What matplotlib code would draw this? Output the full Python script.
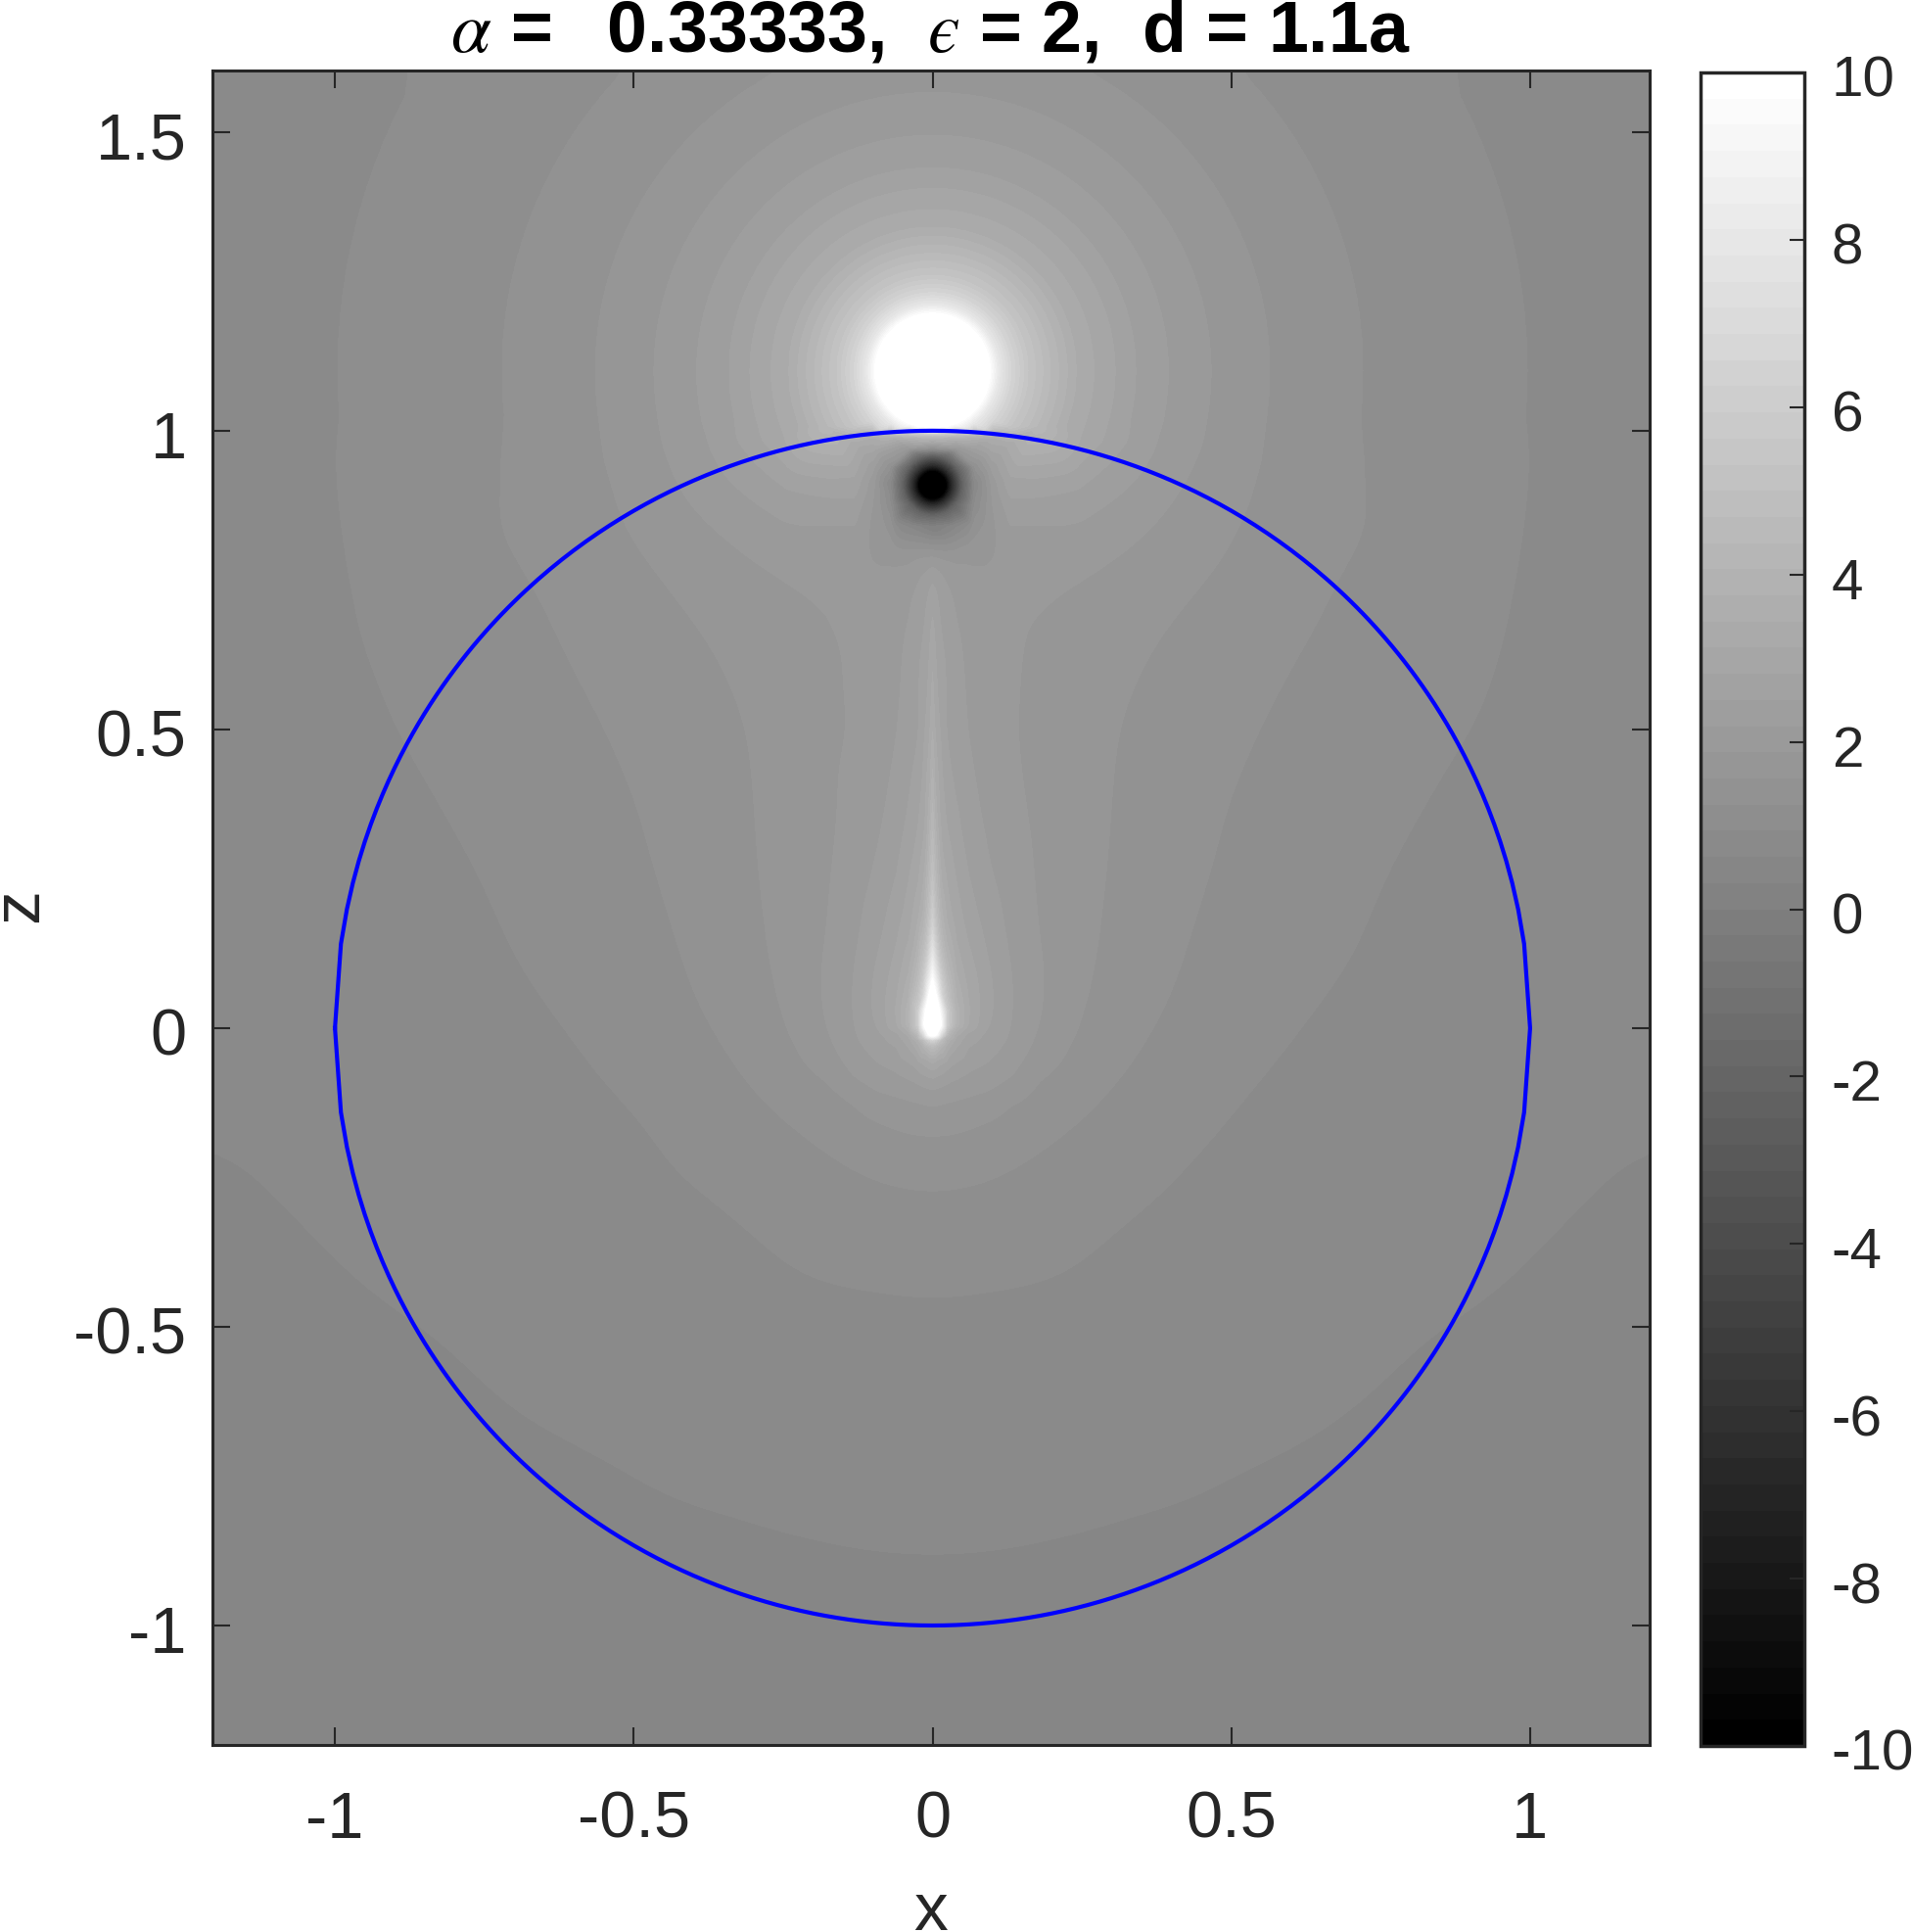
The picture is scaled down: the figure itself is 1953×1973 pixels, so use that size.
import numpy as np
import matplotlib
matplotlib.use("Agg")
import matplotlib.pyplot as plt
import matplotlib.tri as mtri
from matplotlib.cm import ScalarMappable
from matplotlib.colors import Normalize
from matplotlib.transforms import ScaledTranslation

nan = np.nan

# values, potential at each sample (only x >= 0, picture is mirrored)
# far field, rows are outer_z and columns are outer_x
outer_x = [0, 0.13, 0.25, 0.35, 0.5, 0.7, 0.95, 1.215]
outer_z = [-1.215, -0.87, -0.6, -0.44, -0.27, -0.175, -0.07, 0.1, 0.3, 0.5, 0.66, 0.76, 0.84, 0.92, 0.98, 1.05, 1.3, 1.615]
outer_v = [
    [0.50, 0.50, 0.49, 0.48, 0.47, 0.45, 0.43, 0.40],
    [0.625, 0.62, 0.61, 0.60, 0.58, 0.55, 0.50, 0.45],
    [0.82, 0.80, 0.76, 0.72, 0.68, 0.64, 0.56, 0.49],
    [0.9375, 0.92, 0.89, 0.83, 0.77, 0.69, 0.625, 0.55],
    [1.25, 1.18, 1.04, 0.96, 0.87, 0.75, 0.67, 0.60],
    [1.5625, 1.38, 1.2, 1.05, 0.90, 0.77, 0.68, 0.63],
    [nan, nan, 1.4, 1.2, 0.99, 0.83, 0.71, 0.66],
    [nan, nan, 1.6, 1.37, 1.09, 0.93, 0.76, 0.69],
    [nan, nan, 1.62, 1.48, 1.20, 0.99, 0.83, 0.72],
    [nan, nan, 1.65, 1.5, 1.30, 1.08, 0.90, 0.75],
    [nan, nan, 1.73, 1.6, 1.40, 1.17, 0.94, 0.77],
    [nan, nan, 1.875, 1.72, 1.5, 1.21, 0.95, 0.78],
    [nan, 2.12, 2.13, 1.9, 1.58, 1.3, 0.955, 0.8],
    [nan, 2.75, 2.55, 2.15, 1.62, 1.26, 0.965, 0.8],
    [nan, 3.3, 3.1, 2.35, 1.72, 1.28, 0.97, 0.8],
    [nan, nan, nan, nan, nan, nan, nan, 0.8],
    [nan, nan, nan, nan, nan, nan, nan, 0.78],
    [1.735, 1.684, 1.554, 1.45, 1.262, 1.084, 0.875, 0.74],
]

# bright streak along the axis and the drop at the origin
line_x = [0, 0.006, 0.014, 0.025, 0.04, 0.06, 0.09, 0.13, 0.18]
line_z = [-0.125, -0.09, -0.06, -0.03, -0.02, -0.012, 0.005, 0.03, 0.06, 0.1, 0.17, 0.25, 0.35, 0.5, 0.64, 0.73, 0.77]
line_v = [
    [1.875, 1.87, 1.86, 1.85, 1.82, 1.78, 1.72, 1.55, 1.42],
    [2.25, 2.23, 2.2, 2.16, 2.13, 2.08, 2.0, 1.84, 1.5],
    [2.9, 2.85, 2.75, 2.6, 2.45, 2.3, 2.22, 2.03, 1.65],
    [4.6, 4.4, 3.9, 3.3, 2.85, 2.5, 2.3, 2.14, 1.77],
    [6.5, 6.0, 4.8, 3.6, 3.0, 2.6, 2.35, 2.16, 1.8],
    [10.2, 9.8, 7.0, 4.2, 3.2, 2.7, 2.4, 2.18, 1.85],
    [14.0, 12.0, 9.9, 5.6, 3.9, 3.15, 2.65, 2.2, 1.875],
    [13.0, 11.5, 9.0, 5.6, 3.9, 3.2, 2.65, 2.2, 1.875],
    [11.0, 9.5, 6.5, 4.8, 3.7, 3.1, 2.62, 2.2, 1.875],
    [8.6, 7.0, 5.3, 4.1, 3.35, 2.95, 2.58, 2.19, 1.875],
    [6.2, 5.0, 4.0, 3.4, 3.0, 2.72, 2.4, 2.12, 1.83],
    [5.0, 4.2, 3.4, 3.05, 2.8, 2.52, 2.25, 2.04, 1.82],
    [4.2, 3.5, 3.0, 2.75, 2.55, 2.3, 2.15, 1.98, 1.79],
    [3.4, 3.0, 2.75, 2.45, 2.3, 2.18, 2.07, 1.9, 1.78],
    [3.0, 2.75, 2.55, 2.42, 2.26, 2.12, 2.02, 1.93, 1.79],
    [2.65, 2.55, 2.4, 2.25, 2.12, 2.04, 2.0, 1.99, 1.92],
    [2.3, 2.25, 2.2, 2.1, 1.98, 1.95, 1.9, 2.01, 1.98],
]

# surroundings of the dark spot, up to the sphere surface
cap_x = [0, 0.04, 0.07, 0.1]
cap_z = [0.8, 0.84, 0.88, 0.91, 0.94, 0.97, 0.99]
cap_v = [
    [1.88, 1.75, 1.72, 1.8],
    [0.3, 0.9, 1.45, 1.8],
    [nan, nan, 0.9, 1.85],
    [nan, nan, 0.6, 1.95],
    [nan, nan, 1.3, 2.3],
    [1.2, 1.8, 2.4, 2.9],
    [4.4, 4.0, 3.7, 3.5],
]

# radial profiles around the charge (upper side) and the image spot
charge_center = 1.1
charge_r = [0.05, 0.09, 0.095, 0.11, 0.13, 0.16, 0.2, 0.24, 0.27, 0.306, 0.34, 0.394, 0.466, 0.564, 0.72, 0.995, 1.15, 1.3]
charge_v = [13.0, 10.4, 9.9, 8.0, 6.6, 5.3, 4.3, 3.44, 3.125, 2.81, 2.5, 2.19, 1.875, 1.5625, 1.25, 0.9375, 0.82, 0.74]

spot_center = 0.909
spot_r = [0.012, 0.02, 0.024, 0.03, 0.04, 0.05]
spot_v = [-12.0, -10.4, -9.9, -7.5, -4.8, -2.2]

x_ticks = [-1, -0.5, 0, 0.5, 1]
x_labels = ["-1", "-0.5", "0", "0.5", "1"]
z_ticks = [-1, -0.5, 0, 0.5, 1, 1.5]
z_labels = ["-1", "-0.5", "0", "0.5", "1", "1.5"]
cbar_ticks = [-10, -8, -6, -4, -2, 0, 2, 4, 6, 8, 10]
cbar_labels = ["-10", "-8", "-6", "-4", "-2", "0", "2", "4", "6", "8", "10"]

DARK = "#262626"


def table_points(xs, zs, table):
    xx, zz = np.meshgrid(xs, zs)
    vv = np.array(table, dtype=float)
    keep = ~np.isnan(vv)
    return xx[keep], zz[keep], vv[keep]


def ring_points(center, radii, values, n_angles, z_min, z_max, x_max):
    th = np.linspace(-np.pi / 2, np.pi / 2, n_angles)
    px, pz, pv = [], [], []
    for r, v in zip(radii, values):
        x = np.round(r * np.cos(th), 9)
        z = center + r * np.sin(th)
        keep = (z > z_min) & (z < z_max) & (x < x_max)
        px.append(x[keep])
        pz.append(z[keep])
        pv.append(np.full(keep.sum(), v))
    return np.concatenate(px), np.concatenate(pz), np.concatenate(pv)


def blur_1d(field, sigma_cells, axis):
    half = int(3 * sigma_cells) + 1
    k = np.exp(-0.5 * (np.arange(-half, half + 1) / sigma_cells) ** 2)
    k /= k.sum()
    padded = np.concatenate([np.repeat(np.take(field, [0], axis), half, axis), field,
                             np.repeat(np.take(field, [-1], axis), half, axis)], axis)
    return np.apply_along_axis(lambda a: np.convolve(a, k, mode="valid"), axis, padded)


parts = [
    table_points(outer_x, outer_z, outer_v),
    table_points(line_x, line_z, line_v),
    table_points(cap_x, cap_z, cap_v),
    ring_points(charge_center, charge_r, charge_v, 73, 1.003, 1.59, 1.19),
    ring_points(spot_center, spot_r, spot_v, 25, 0.0, 2.0, 1.19),
]
px = np.concatenate([p[0] for p in parts])
pz = np.concatenate([p[1] for p in parts])
pv = np.concatenate([p[2] for p in parts])

# mirror to the left half
side = px > 0
all_x = np.concatenate([px, -px[side]])
all_z = np.concatenate([pz, pz[side]])
all_v = np.concatenate([pv, pv[side]])

# put the samples on a regular grid, step about the pixel size of the original
tri = mtri.Triangulation(all_x, all_z)
step = 0.004
gx = np.arange(-1.208, 1.2081, step)
gz = np.arange(-1.204, 1.6081, step)
X, Z = np.meshgrid(gx, gz)
V = mtri.LinearTriInterpolator(tri, all_v)(X, Z).filled(0.5)

# round off the polygon corners of the hand read bands, away from the sharp features
r_charge = np.hypot(X, Z - charge_center)
r_spot = np.hypot(X, Z - spot_center)
r_origin = np.hypot(X, Z)
below_top = (1.03 - Z) / 0.08
far = blur_1d(blur_1d(V, 0.05 / step, 0), 0.05 / step, 1)
along = blur_1d(V, 0.025 / step, 0)
off_axis = np.maximum((np.abs(X) - 0.12) / 0.12, (-0.13 - Z) / 0.05)
w_far = np.clip(np.minimum.reduce([off_axis, (r_charge - 0.3) / 0.12, (r_spot - 0.12) / 0.12, below_top]), 0, 1)
w_along = np.clip(np.minimum.reduce([(r_origin - 0.05) / 0.05, (r_spot - 0.06) / 0.04, (r_charge - 0.2) / 0.05, below_top]), 0, 1)
near = w_along * along + (1 - w_along) * V
V_show = w_far * far + (1 - w_far) * near

plt.rcParams["font.family"] = ["Liberation Sans", "DejaVu Sans"]
plt.rcParams["mathtext.fontset"] = "stix"
plt.rcParams["axes.unicode_minus"] = False

W, H = 1953, 1974
fig = plt.figure(figsize=(W / 100, H / 100), dpi=100)
ax = fig.add_axes([217 / W, (H - 1783) / H, 1468 / W, 1710 / H])
cax = fig.add_axes([1737 / W, (H - 1784) / H, 106 / W, 1709 / H])

cmap = plt.get_cmap("gray", 64)
norm = Normalize(-10, 10)
levels = np.linspace(-10, 10, 65)
ax.contourf(X, Z, V_show, levels=levels, cmap=cmap, norm=norm, extend="both")

# sphere outline, sampled in x like the original so it kinks at z = 0
circle_x = np.linspace(-1, 1, 201)
circle_z = np.sqrt(1 - circle_x ** 2)
ax.plot(np.r_[circle_x, circle_x[::-1]], np.r_[circle_z, -circle_z[::-1]], color="#0000ff", lw=3.0)

ax.set_xlim(-1.205, 1.2)
ax.set_ylim(-1.2, 1.603)
ax.set_xticks(x_ticks, x_labels)
ax.set_yticks(z_ticks, z_labels)
ax.tick_params(axis="x", direction="in", top=True, bottom=True, length=13, width=1.5, color=DARK,
               labelcolor=DARK, labelsize=48, pad=33)
ax.tick_params(axis="y", direction="in", left=True, right=True, length=13, width=1.5, color=DARK,
               labelcolor=DARK, labelsize=48, pad=19)
for s in ax.spines.values():
    s.set_linewidth(2.2)
    s.set_color(DARK)

cb = fig.colorbar(ScalarMappable(norm=norm, cmap=cmap), cax=cax, ticks=cbar_ticks)
cb.ax.set_yticklabels(cbar_labels)
cb.ax.tick_params(direction="in", length=11, width=1.5, color=DARK, labelcolor=DARK, labelsize=42, pad=20)
cb.outline.set_linewidth(2.5)
cb.outline.set_edgecolor(DARK)

# labels sit a little under their ticks in the original
nudge = ScaledTranslation(0, -3 / 100, fig.dpi_scale_trans)
for lab in ax.get_yticklabels() + cb.ax.get_yticklabels():
    lab.set_transform(lab.get_transform() + nudge)

fig.text(950 / W, 1 - 33 / H, "$\u03b1$ =  \u20090.33333,  $\u03f5$ = 2,  d = 1.1a", fontsize=53,
         fontweight="bold", ha="center", va="center", color="black")
fig.text(951 / W, 1 - 1953 / H, "x", fontsize=50, color=DARK, ha="center", va="center")
fig.text(20 / W, 1 - 925 / H, "z", fontsize=50, color=DARK, ha="center", va="center", rotation=90)

fig.savefig("out.png", dpi=100)
